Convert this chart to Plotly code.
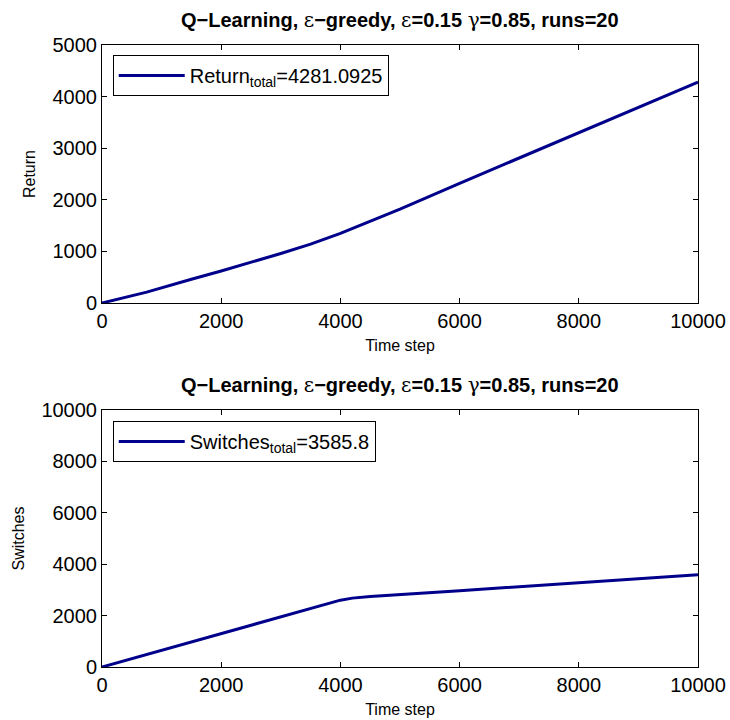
import plotly.graph_objects as go
from plotly.subplots import make_subplots

# ---- data ----
steps_return = [0, 750, 1500, 2000, 3000, 3500, 4000, 4500, 5000, 6000, 7000, 8000, 9000, 10000]
return_cum = [0, 210, 460, 620, 960, 1140, 1350, 1580, 1820, 2320, 2810, 3300, 3790, 4281.0925]

steps_switch = [0, 4000, 4200, 4500, 6000, 8000, 10000]
switch_cum = [0, 2600, 2680, 2740, 2970, 3280, 3585.8]

x_ticks = [0, 2000, 4000, 6000, 8000, 10000]
x_ticklabels = ["0", "2000", "4000", "6000", "8000", "10000"]
y_ticks_top = [0, 1000, 2000, 3000, 4000, 5000]
y_ticklabels_top = ["0", "1000", "2000", "3000", "4000", "5000"]
y_ticks_bot = [0, 2000, 4000, 6000, 8000, 10000]
y_ticklabels_bot = ["0", "2000", "4000", "6000", "8000", "10000"]

eps = "<span style='font-weight:normal;font-family:\"DejaVu Serif\"'>ε</span>"
gam = "<span style='font-weight:normal;font-family:\"DejaVu Serif\"'>γ</span>"
title_text = f"<b>Q−Learning, {eps}−greedy, {eps}=0.15 {gam}=0.85, runs=20</b>"

FONT = "Liberation Sans, Arial, sans-serif"
LINE_COLOR = "#00008b"

fig = make_subplots(rows=2, cols=1)

fig.add_trace(go.Scatter(x=steps_return, y=return_cum, mode="lines",
                         line=dict(color=LINE_COLOR, width=3),
                         name="Return<sub>total</sub>=4281.0925",
                         legend="legend"), row=1, col=1)
fig.add_trace(go.Scatter(x=steps_switch, y=switch_cum, mode="lines",
                         line=dict(color=LINE_COLOR, width=3),
                         name="Switches<sub>total</sub>=3585.8",
                         legend="legend2"), row=2, col=1)

axis_common = dict(showline=True, linecolor="black", linewidth=1, mirror="ticks",
                   ticks="inside", ticklen=5, tickcolor="black", showgrid=False,
                   zeroline=False, tickfont=dict(family=FONT, size=20, color="black"),
                   automargin=False)

fig.update_xaxes(**axis_common, range=[0, 10000], tickvals=x_ticks, ticktext=x_ticklabels,
                 title=dict(text="Time step", font=dict(family=FONT, size=16, color="black"), standoff=8))
fig.update_yaxes(**axis_common)
fig.update_yaxes(range=[0, 5000], tickvals=y_ticks_top, ticktext=y_ticklabels_top,
                 title=dict(text="Return", font=dict(family=FONT, size=16, color="black"), standoff=12),
                 domain=[0.5852, 1.0], row=1, col=1)
fig.update_yaxes(range=[0, 10000], tickvals=y_ticks_bot, ticktext=y_ticklabels_bot,
                 title=dict(text="Switches", font=dict(family=FONT, size=16, color="black"), standoff=12),
                 domain=[0.0, 0.4132], row=2, col=1)

legend_common = dict(bgcolor="white", bordercolor="black", borderwidth=1,
                     font=dict(family=FONT, size=20, color="black"),
                     xanchor="left", yanchor="top", itemwidth=66)

fig.update_layout(
    width=730, height=720,
    margin=dict(l=102, r=32, t=45, b=53),
    paper_bgcolor="white", plot_bgcolor="white",
    showlegend=True,
    legend=dict(**legend_common, x=0.018, y=0.984),
    legend2=dict(**legend_common, x=0.018, y=0.3955),
    annotations=[
        dict(text=title_text, x=0.5, y=1.04, xref="paper", yref="paper",
             xanchor="center", yanchor="middle", showarrow=False,
             font=dict(family=FONT, size=20, color="black")),
        dict(text=title_text, x=0.5, y=0.453, xref="paper", yref="paper",
             xanchor="center", yanchor="middle", showarrow=False,
             font=dict(family=FONT, size=20, color="black")),
    ],
)

fig.write_html("out.html")
